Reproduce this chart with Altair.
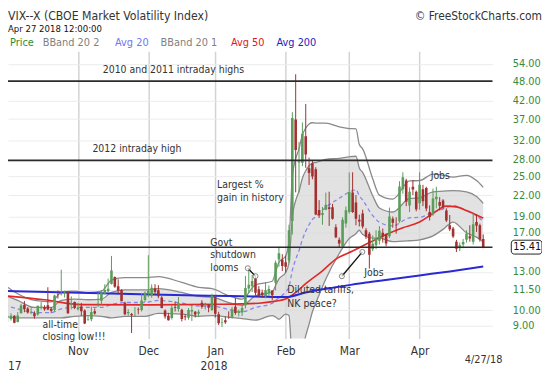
import altair as alt
import pandas as pd

FONT = "DejaVu Sans Condensed, Liberation Sans, sans-serif"

# ---------------- price data: trading-day index 0 = Oct 2 2017 ... 143 = Apr 27 2018
opens = [
    9.57, 9.50, 9.42, 9.64, 9.24, 9.81, 10.38, 10.12, 9.83, 9.80,
    9.72, 10.29, 10.23, 10.35, 10.11, 10.03, 11.19, 11.17, 11.22, 11.34,
    10.39, 10.59,
    10.08, 10.26, 9.99, 9.38, 9.41, 9.93, 10.48, 10.68, 11.20, 11.40,
    11.98, 12.56, 11.79, 11.51, 10.53, 9.80, 9.75, 9.87, 10.05, 10.02,
    10.74,
    11.26, 11.08, 11.64, 11.47, 10.92, 9.99, 9.63, 9.49, 10.23, 10.10,
    10.04, 9.61, 9.51, 9.92, 9.90, 9.77, 10.53, 10.43, 10.41, 10.03,
    10.95, 9.74, 9.19, 9.34, 9.54, 9.52, 10.25, 9.82, 9.85, 10.36,
    11.61, 11.79, 12.40, 11.55, 11.30, 11.02, 11.30, 11.45, 12.08, 14.16,
    14.13,
    13.89, 14.07, 18.44, 36.90, 27.50, 27.47, 32.90, 26.45, 27.38, 26.28,
    19.88, 19.19, 19.90, 20.25, 20.26, 17.67, 16.21, 15.53, 18.12,
    19.60, 22.40, 20.90, 18.60, 19.40, 17.30, 16.90, 15.20, 15.60, 16.10,
    17.00, 16.80, 16.60, 18.70, 17.90, 18.40, 22.90, 24.30, 20.50, 23.30,
    22.50,
    20.80, 22.90, 23.10, 19.60, 19.30, 21.40, 21.00, 21.20, 19.80, 17.90,
    17.50, 16.00, 15.30, 15.70, 16.20, 16.60, 16.00, 18.30, 17.90, 16.30,
]
highs = [
    9.75, 9.64, 9.80, 9.67, 9.88, 10.45, 10.66, 10.22, 10.20, 9.93,
    10.32, 10.58, 10.35, 11.71, 10.22, 11.13, 11.46, 13.20, 11.45, 11.39,
    11.00, 10.62,
    10.53, 10.52, 10.06, 9.62, 10.26, 10.13, 11.27, 11.49, 11.95, 12.42,
    14.51, 12.61, 12.37, 11.55, 10.61, 10.08, 9.82, 10.23, 10.20, 11.24,
    11.39,
    14.58, 11.94, 11.96, 11.88, 11.02, 10.06, 9.83, 10.37, 10.63, 10.95,
    10.11, 9.74, 10.16, 10.35, 9.95, 10.04, 10.72, 10.53, 10.43, 11.20,
    11.07, 9.90, 9.49, 9.59, 9.93, 10.25, 10.89, 10.05, 10.36, 12.65,
    13.30, 12.73, 12.60, 11.81, 11.52, 12.13, 11.86, 11.47, 14.06, 15.46,
    14.68,
    14.54, 17.97, 38.80, 50.30, 31.64, 36.17, 41.06, 28.43, 27.88, 26.63,
    21.26, 20.29, 22.38, 22.52, 20.71, 18.02, 16.47, 18.90, 20.34,
    25.70, 25.72, 22.01, 19.25, 19.90, 17.55, 17.10, 16.70, 17.30, 17.80,
    17.50, 16.90, 20.20, 19.00, 18.90, 24.20, 25.72, 24.60, 23.20, 24.40,
    22.70,
    25.70, 23.60, 23.30, 20.50, 23.00, 23.30, 21.70, 21.40, 20.10, 19.20,
    17.70, 16.20, 15.90, 16.30, 17.30, 17.90, 19.50, 19.30, 18.10, 16.80,
]
lows = [
    9.19, 9.24, 9.32, 9.15, 9.21, 9.78, 9.87, 9.78, 9.74, 9.45,
    9.64, 10.05, 9.97, 10.01, 9.81, 9.91, 10.84, 11.07, 10.92, 9.76,
    10.07, 10.08,
    9.98, 9.63, 9.10, 9.31, 9.28, 9.71, 10.23, 10.38, 11.15, 11.33,
    11.93, 11.66, 11.25, 10.64, 9.67, 9.63, 8.56, 9.57, 9.73, 9.92,
    10.58,
    10.94, 10.90, 11.11, 10.86, 10.14, 9.44, 9.32, 9.39, 9.92, 9.91,
    9.27, 9.34, 9.38, 9.30, 9.52, 9.55, 10.11, 10.06, 9.87, 9.96,
    9.52, 9.04, 8.92, 9.11, 9.44, 9.46, 9.70, 9.59, 9.62, 10.13,
    11.25, 11.33, 11.09, 10.97, 10.88, 10.86, 11.04, 10.74, 11.46, 13.47,
    13.08,
    12.95, 13.83, 16.80, 22.42, 22.38, 26.82, 26.52, 23.58, 24.52, 19.18,
    18.81, 17.96, 19.84, 17.82, 18.60, 16.38, 15.35, 15.32, 17.61,
    19.40, 19.47, 17.90, 17.75, 17.50, 16.30, 13.30, 15.00, 15.20, 15.70,
    15.90, 15.50, 16.40, 17.60, 16.90, 18.20, 22.20, 20.40, 19.60, 22.00,
    19.70,
    19.90, 20.40, 19.70, 18.50, 19.10, 20.10, 19.80, 20.00, 18.30, 17.20,
    16.40, 14.90, 15.00, 15.30, 15.90, 16.00, 15.70, 17.10, 16.00, 15.30,
]
closes = [
    9.45, 9.51, 9.63, 9.19, 9.65, 10.33, 10.08, 9.85, 9.91, 9.61,
    10.31, 10.31, 10.07, 10.06, 9.97, 11.07, 11.16, 11.23, 11.30, 9.80,
    10.50, 10.18,
    10.20, 9.93, 9.14, 9.40, 9.89, 9.78, 10.50, 11.29, 11.50, 11.59,
    13.13, 11.76, 11.43, 10.65, 9.73, 9.88, 9.67, 9.87, 10.03, 10.70,
    11.28,
    11.43, 11.68, 11.33, 11.02, 10.16, 9.58, 9.34, 10.18, 10.18, 10.49,
    9.42, 9.53, 10.03, 10.03, 9.72, 9.90, 10.25, 10.47, 10.18, 11.04,
    9.77, 9.15, 9.22, 9.22, 9.52, 10.08, 9.82, 9.88, 10.16, 11.66,
    11.91, 12.22, 11.27, 11.03, 11.10, 11.47, 11.58, 11.08, 13.84, 14.79,
    13.54,
    13.47, 17.31, 37.32, 29.98, 27.73, 33.46, 29.06, 25.61, 24.97, 19.26,
    19.13, 19.46, 20.60, 20.02, 18.72, 16.49, 15.80, 18.59, 19.85,
    22.47, 19.59, 18.73, 18.36, 17.76, 16.54, 14.64, 15.78, 16.35, 17.23,
    16.59, 15.80, 19.02, 18.20, 17.86, 23.34, 24.87, 21.03, 22.50, 22.87,
    19.97,
    23.62, 21.10, 20.06, 18.94, 21.49, 21.77, 20.47, 20.24, 18.49, 17.41,
    16.56, 15.25, 15.60, 15.96, 16.88, 16.34, 18.02, 17.84, 16.24, 15.41,
]

month_ticks = [22, 43, 63, 84, 103, 124]
month_labels = ["Nov", "Dec", "Jan", "Feb", "Mar", "Apr"]
y_ticks = [9, 10, 11.5, 13, 17, 19, 22, 25, 28, 32, 37, 42, 48, 54]

band_idx = [0, 4, 9, 14, 17, 21, 25, 29, 32, 36, 42, 46, 53, 58, 62, 67, 71, 75, 80, 81,
            82, 84, 85, 86, 87, 88, 89, 90, 91, 92, 93, 96, 100, 103, 105, 106, 107, 110, 112, 116,
            121, 124, 128, 131, 134, 138, 141, 143]
bb2_upper = [11.9, 11.2, 10.7, 10.6, 11.3, 11.4, 11.3, 11.4, 12.3, 12.5,
             12.5, 12.6, 12.1, 11.7, 11.6, 11.05, 10.8, 11.9, 12.2, 13.0,
             13.9, 14.5, 16.0, 25.0, 28.2, 30.2, 33.2, 34.8, 35.8, 36.1,
             36.0, 36.0, 35.1, 34.7, 34.6, 31.1, 30.2, 24.6, 22.0, 21.4,
             24.25, 24.3, 25.4, 25.2, 24.9, 25.2, 24.3, 23.2]
bb1_upper = [11.1, 10.7, 10.2, 10.2, 10.7, 10.8, 10.75, 10.8, 11.3, 11.5,
             11.5, 11.6, 11.3, 11.0, 10.95, 10.55, 10.35, 11.05, 11.35, 11.85,
             12.4, 12.95, 13.85, 19.0, 21.2, 22.6, 24.7, 26.0, 26.9, 27.4,
             27.5, 28.1, 28.3, 28.6, 28.7, 26.5, 25.7, 21.9, 20.15, 19.6,
             21.5, 21.6, 22.5, 22.6, 22.7, 22.5, 21.8, 20.8]
avg20 = [10.35, 10.1, 9.85, 9.85, 10.1, 10.2, 10.2, 10.2, 10.4, 10.55,
         10.55, 10.7, 10.5, 10.3, 10.3, 10.05, 9.9, 10.2, 10.5, 10.7,
         10.9, 11.34, 11.75, 13.15, 14.17, 15.05, 16.23, 17.19, 17.96, 18.63,
         19.0, 20.24, 21.53, 22.47, 22.84, 21.9, 21.28, 19.12, 18.27, 17.83,
         18.83, 18.9, 19.56, 20.0, 20.49, 19.75, 19.1, 18.38]
bb1_lower = [9.6, 9.5, 9.5, 9.5, 9.5, 9.6, 9.65, 9.6, 9.5, 9.6,
             9.6, 9.8, 9.75, 9.6, 9.65, 9.55, 9.45, 9.35, 9.65, 9.55,
             9.4, 9.75, 9.65, 7.2, 7.2, 7.4, 7.7, 8.4, 9.1, 9.9,
             10.5, 12.4, 14.75, 16.35, 16.9, 17.3, 16.8, 16.4, 16.4, 16.0,
             16.1, 16.2, 16.65, 17.4, 18.3, 17.0, 16.5, 16.0]

avg50_idx = [0, 12, 23, 44, 64, 76, 81, 84, 87, 90, 95, 99, 104, 109, 114, 119, 124, 128, 132, 135, 138, 141, 143]
avg50 = [11.05, 10.75, 10.4, 10.38, 10.42, 10.5, 10.65, 10.8, 11.3, 12.0, 13.1, 14.2, 15.0, 15.9,
         16.8, 17.6, 18.3, 19.4, 20.4, 20.3, 19.8, 19.2, 18.8]
avg200_idx = [0, 32, 61, 75, 84, 90, 95, 101, 108, 115, 124, 133, 143]
avg200 = [11.42, 11.22, 11.05, 11.0, 10.95, 11.3, 11.55, 11.8, 12.1, 12.35, 12.7, 13.05, 13.5]

level_values = [48.0, 27.9, 15.4]
last_price = 15.41

annot_text = ["2010 and 2011 intraday highs", "2012 intraday high", "Largest %", "gain in history",
              "Govt", "shutdown", "looms", "all-time", "closing low!!!",
              "Diluted tariffs,", "NK peace?", "Jobs", "Jobs"]
annot_i = [29.4, 26.3, 63.5, 63.5, 61.5, 61.5, 61.5, 11.4, 11.4, 84.5, 84.5, 107.5, 127.3]
annot_v = [51.9, 30.1, 23.6, 21.6, 15.9, 14.56, 13.34, 9.06, 8.32, 11.49, 10.45, 12.89, 25.05]

conn_i1 = [72.7, 100.8]
conn_v1 = [13.34, 12.63]
conn_i2 = [75.0, 106.9]
conn_v2 = [12.63, 14.91]

legend_labels = ["Price", "BBand 20 2", "Avg 20", "BBand 20 1", "Avg 50", "Avg 200"]
legend_colors = ["#2f8a2f", "#7f7f7f", "#7474f2", "#7f7f7f", "#e01818", "#2222c0"]
legend_x = [2, 35, 108, 154, 225, 271]

# ---------------- scales / axes / helpers
W, H = 489, 290
XS = alt.Scale(domain=[2.58, 144.28], nice=False, zero=False)
YS = alt.Scale(type="log", domain=[8.24, 58.86], nice=False)

label_expr = " : ".join(f"datum.value == {t} ? '{m}'" for t, m in zip(month_ticks, month_labels)) + " : ''"
X_AXIS = alt.Axis(
    values=month_ticks, labelExpr=label_expr, grid=True, gridColor="#d3d3d3", gridWidth=1.5,
    domain=False, ticks=False, tickSize=0, labelPadding=7, labelFontSize=12,
    labelColor="#333333", labelFont=FONT, title=None, labelOverlap=False, labelFlush=False)
Y_AXIS = alt.Axis(
    orient="right", values=y_ticks, format=".2f", grid=True, gridColor="#ececec",
    domain=False, ticks=False, tickSize=0, labelPadding=20, labelFontSize=11,
    labelColor="#3a8a3a", labelFont=FONT, title=None, labelOverlap=False, labelFlush=False)


def xq(f):
    return alt.X(f"{f}:Q", scale=XS, axis=X_AXIS)


def yq(f):
    return alt.Y(f"{f}:Q", scale=YS, axis=Y_AXIS)


n = len(closes)
candles = pd.DataFrame({"i": list(range(n)), "open": opens, "high": highs,
                        "low": lows, "close": closes})
candles["dir"] = ["up" if c >= o else "down" for o, c in zip(opens, closes)]
candles["top"] = [max(o, c) for o, c in zip(opens, closes)]
candles["bot"] = [min(o, c) for o, c in zip(opens, closes)]

fill_df = pd.DataFrame({"i": band_idx, "lo": bb1_lower, "hi": bb1_upper})
fill_layer = alt.Chart(fill_df).mark_area(color="#d8d8d8", opacity=0.75, interpolate="monotone",
                                          clip=True).encode(
    x=xq("i"), y=yq("lo"), y2="hi:Q")

rows = []
for s, arr in [("u2", bb2_upper), ("u1", bb1_upper), ("l1", bb1_lower)]:
    for i, v in zip(band_idx, arr):
        rows.append({"i": i, "v": v, "s": s})
band_df = pd.DataFrame(rows)
band_lines = alt.Chart(band_df).mark_line(color="#8a8a8a", strokeWidth=1.3, interpolate="monotone",
                                          clip=True).encode(x=xq("i"), y=yq("v"), detail="s:N")

avg20_layer = alt.Chart(pd.DataFrame({"i": band_idx, "v": avg20})).mark_line(
    color="#8585f0", strokeWidth=1.3, strokeDash=[4, 3], interpolate="monotone", clip=True
).encode(x=xq("i"), y=yq("v"))
avg50_layer = alt.Chart(pd.DataFrame({"i": avg50_idx, "v": avg50})).mark_line(
    color="#e02828", strokeWidth=1.6, interpolate="monotone", clip=True
).encode(x=xq("i"), y=yq("v"))
avg200_layer = alt.Chart(pd.DataFrame({"i": avg200_idx, "v": avg200})).mark_line(
    color="#2a2ad4", strokeWidth=2, interpolate="monotone", clip=True
).encode(x=xq("i"), y=yq("v"))

wicks = alt.Chart(candles).mark_rule(strokeWidth=1, clip=True).encode(
    x=xq("i"), y=yq("low"), y2="high:Q",
    color=alt.Color("dir:N", scale=alt.Scale(domain=["up", "down"], range=["#5a9c5a", "#a33030"]),
                    legend=None))
bodies = alt.Chart(candles).mark_bar(size=2.6, clip=True).encode(
    x=xq("i"), y=yq("top"), y2="bot:Q",
    color=alt.Color("dir:N", scale=alt.Scale(domain=["up", "down"], range=["#5a9c5a", "#8b1414"]),
                    legend=None))

levels = alt.Chart(pd.DataFrame({"v": level_values})).mark_rule(
    color="#2b2b2b", strokeWidth=1.7).encode(y=yq("v"))

annot = alt.Chart(pd.DataFrame({"i": annot_i, "v": annot_v, "t": annot_text})).mark_text(
    align="left", baseline="middle", fontSize=10.5, color="#333333", font=FONT
).encode(x=xq("i"), y=yq("v"), text="t:N")

conn_df = pd.DataFrame({"i1": conn_i1, "v1": conn_v1, "i2": conn_i2, "v2": conn_v2})
conn_lines = alt.Chart(conn_df).mark_rule(color="#111111", strokeWidth=1.3).encode(
    x=xq("i1"), x2="i2:Q", y=yq("v1"), y2="v2:Q")
pts_df = pd.DataFrame({"i": conn_i1 + conn_i2, "v": conn_v1 + conn_v2})
conn_pts = alt.Chart(pts_df).mark_point(shape="circle", size=26, filled=True, fill="white",
                                        stroke="#555555", strokeWidth=1).encode(x=xq("i"), y=yq("v"))

price_box = alt.Chart(pd.DataFrame({"v": [last_price]})).mark_rect(
    fill="white", stroke="#222222", strokeWidth=1, cornerRadius=3, yOffset=-7, y2Offset=7
).encode(x=alt.value(508), x2=alt.value(539), y=yq("v"), y2="v:Q")
price_txt = alt.Chart(pd.DataFrame({"v": [last_price], "t": [f"{last_price:.2f}"]})).mark_text(
    align="left", baseline="middle", fontSize=11, color="#111111", font=FONT
).encode(x=alt.value(510), y=yq("v"), text="t:N")


def label(text, x, y, size, color, align="left", baseline="middle"):
    return alt.Chart(pd.DataFrame({"t": [text]})).mark_text(
        align=align, baseline=baseline, fontSize=size, color=color, font=FONT
    ).encode(x=alt.value(x), y=alt.value(y), text="t:N")


headers = [
    label("VIX--X (CBOE Market Volatility Index)", 0, -42, 12.3, "#333333", baseline="top"),
    label("Apr 27 2018 12:00:00", 0, -22.5, 9.6, "#111111"),
    label("\u00a9 FreeStockCharts.com", 539, -41, 12, "#333333", align="right", baseline="top"),
    label("17", 0, 318, 12, "#333333"),
    label("2018", 208, 318, 12, "#333333", align="center"),
    label("4/27/18", 499, 312, 11, "#333333", align="right"),
]
for t, c, x in zip(legend_labels, legend_colors, legend_x):
    headers.append(label(t, x, -8, 11, c))

chart = alt.layer(
    fill_layer, band_lines, avg20_layer, avg50_layer, avg200_layer,
    wicks, bodies, levels, conn_lines, conn_pts, annot, price_box, price_txt, *headers
).properties(
    width=W, height=H,
    autosize=alt.AutoSizeParams(type="none"),
    padding={"left": 0, "top": 42, "right": 50, "bottom": 34},
).configure_view(stroke=None)

chart.save("out.html", embed_options={"renderer": "svg", "actions": False})
